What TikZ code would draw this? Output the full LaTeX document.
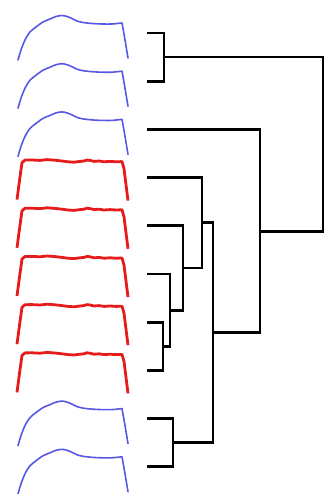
\documentclass[tikz,border=0pt]{standalone}
\definecolor{specblue}{RGB}{88,88,228}
\definecolor{specred}{RGB}{230,28,28}
\tikzset{
  bluespec/.style={specblue, line width=1.6pt, line join=round, line cap=round},
  redspec/.style={specred, line width=2.8pt, line join=round, line cap=butt},
  branch/.style={black, line width=2.8pt, line join=miter},
  bluecurve/.pic={
    \draw[bluespec] plot[smooth, tension=0.5] coordinates {
      (18,60) (21,50) (25,40) (30,32) (36,27) (43,22) (50,19) (56,16.5)
      (62,15.5) (67,16.5) (72,18.5) (77,21) (83,22.5) (92,23.5) (102,24)
      (112,24) (119,23.3) (122,23)} -- (124,34) -- (128,58);
  },
  redcurve/.pic={
    \draw[redspec] (17,55) -- (19.5,36) -- (22,18) -- (25,15.5) -- (32,15.4)
      -- (40,15.8) -- (47,15) -- (55,15.6) -- (62,16.4) -- (68,17.2)
      -- (74,17.6) -- (80,16.8) -- (84,16.4) -- (87,15.4) -- (90,15.8)
      -- (94,16.8) -- (99,16.4) -- (104,17.2) -- (110,16.8) -- (116,17.2)
      -- (122,17) -- (124,24) -- (126,40) -- (128,56);
  },
}
\begin{document}
\begin{tikzpicture}[x=1pt,y=-1pt]
  \useasboundingbox (0,0) rectangle (326,494);

  % spectra, one per leaf (48.2 units apart)
  \foreach \i/\kind in {0/bluecurve,1/bluecurve,2/bluecurve,3/redcurve,
      4/redcurve,5/redcurve,6/redcurve,7/redcurve,8/bluecurve,9/bluecurve}{
    \pic at (0,{48.2*\i}) {\kind};
  }

  % leaves of the dendrogram
  \foreach \i in {1,...,10}{
    \coordinate (L\i) at (147,{33+48.2*(\i-1)});
  }

  % merge points (x = height of the merge, y = midpoint of the children)
  \coordinate (A) at (164,57.1);   % L1 + L2
  \coordinate (I) at (163,346.3);  % L7 + L8
  \coordinate (H) at (170,310.2);  % L6 + I
  \coordinate (G) at (183,268.0);  % L5 + H
  \coordinate (F) at (202,222.8);  % L4 + G
  \coordinate (B) at (173,442.7);  % L9 + L10
  \coordinate (E) at (213,332.8);  % F + B
  \coordinate (D) at (260,231.1);  % L3 + E
  \coordinate (R) at (323,144.1);  % A + D

  % branches
  \draw[branch] (L1) -| (A) |- (L2);
  \draw[branch] (L7) -| (I) |- (L8);
  \draw[branch] (L6) -| (H) |- (I);
  \draw[branch] (L5) -| (G) |- (H);
  \draw[branch] (L4) -| (F) |- (G);
  \draw[branch] (L9) -| (B) |- (L10);
  \draw[branch] (F) -| (E) |- (B);
  \draw[branch] (L3) -| (D) |- (E);
  \draw[branch] (A) -| (R) |- (D);
\end{tikzpicture}
\end{document}
